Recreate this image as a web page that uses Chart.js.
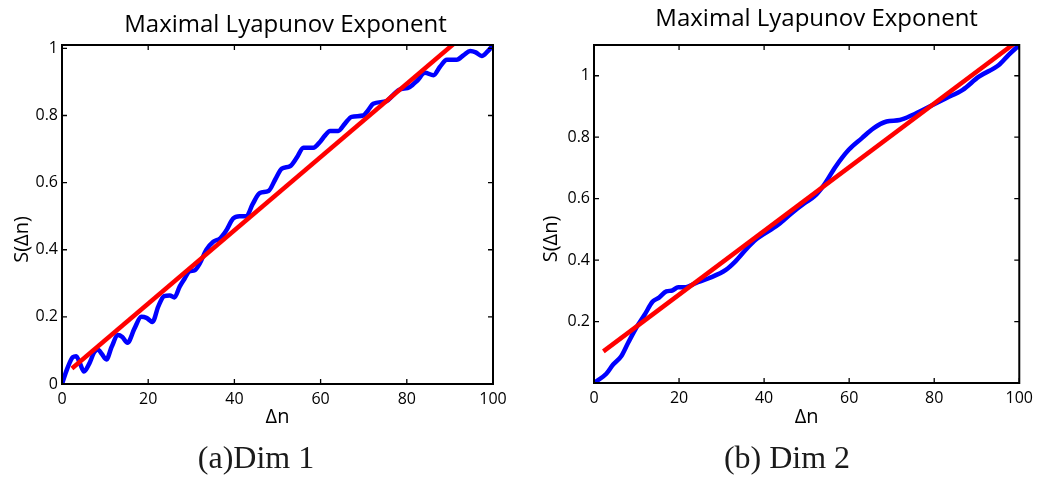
<!DOCTYPE html>
<html>
<head>
<meta charset="utf-8">
<script src="https://cdn.jsdelivr.net/npm/chart.js@4"></script>
<style>
  html, body { margin: 0; padding: 0; background: #fff; }
  #page { position: relative; width: 1039px; height: 479px; overflow: hidden; }
  .panel { position: absolute; top: 0; height: 440px; }
  #panelA { left: 0; width: 520px; }
  #panelB { left: 520px; width: 519px; }
  .caption {
    position: absolute; top: 439px; line-height: 36px;
    font-family: "Liberation Serif", "DejaVu Serif", serif; font-size: 32px;
    color: #1a1a1a; white-space: nowrap; transform: translateX(-50%);
  }
</style>
</head>
<body>
<div id="page">
  <div class="panel" id="panelA"><canvas id="chartA"></canvas></div>
  <div class="panel" id="panelB"><canvas id="chartB"></canvas></div>
  <div class="caption" style="left:256px">(a)Dim 1</div>
  <div class="caption" style="left:787px">(b) Dim 2</div>
</div>
<script>
const chartTitle = 'Maximal Lyapunov Exponent';
const xLabel = 'Δn';
const yLabel = 'S(Δn)';
const xTicks = [0, 20, 40, 60, 80, 100];

// Dim 1
const dim1Ticks = [0, 0.2, 0.4, 0.6, 0.8, 1];
const dim1N = [0, 1.2, 2.5, 3.3, 4.2, 5.1, 6.3, 7.5, 8.3, 9.2, 10.3, 11.5, 13, 14, 15.2, 16.8, 18.4, 19.6, 21,
  22.3, 23.7, 25, 26.1, 27.3, 28.5, 29.5, 30.8, 32, 33.5, 35.1, 36.7, 38, 39.7, 41.2, 42.8, 44.2, 45.9, 47.9,
  49.5, 51, 52.9, 54.5, 56, 58.3, 59.9, 61, 62.2, 64.1, 65.6, 67.2, 69.9, 71, 72.2, 75.3, 76.6, 78, 80.7,
  82.5, 84.2, 86.2, 87.7, 89.3, 91.6, 93.2, 94.7, 96, 97.4, 98.7, 100];
const dim1S = [0, 0.045, 0.08, 0.083, 0.06, 0.037, 0.06, 0.095, 0.103, 0.09, 0.073, 0.11, 0.146, 0.14, 0.123,
  0.165, 0.2, 0.197, 0.185, 0.23, 0.262, 0.264, 0.258, 0.29, 0.315, 0.335, 0.339, 0.36, 0.4, 0.424, 0.434,
  0.455, 0.493, 0.5, 0.5, 0.535, 0.569, 0.575, 0.61, 0.642, 0.649, 0.675, 0.704, 0.704, 0.722, 0.74, 0.754,
  0.754, 0.775, 0.796, 0.8, 0.815, 0.835, 0.843, 0.858, 0.875, 0.885, 0.905, 0.927, 0.92, 0.945, 0.966,
  0.966, 0.98, 0.992, 0.988, 0.977, 0.99, 1.009];
const dim1FitN = [2.3, 100];
const dim1FitS = [0.046, 1.113];

// Dim 2
const dim2Ticks = [0.2, 0.4, 0.6, 0.8, 1];
const dim2N = [0, 2.9, 4.5, 6.4, 8, 9.9, 11.9, 13.8, 15.3, 17, 18.4, 19.8, 21.6, 23.9, 27, 31, 33.2, 35.9, 38,
  43.3, 46.4, 49.5, 51.8, 54.1, 56.8, 59.9, 63, 65.7, 68.8, 71.9, 75, 78.1, 82.8, 86.7, 90.5, 95.2, 97.5, 100];
const dim2S = [0, 0.03, 0.06, 0.087, 0.13, 0.179, 0.222, 0.265, 0.278, 0.298, 0.301, 0.312, 0.312, 0.325,
  0.341, 0.368, 0.395, 0.437, 0.466, 0.515, 0.552, 0.585, 0.607, 0.645, 0.704, 0.759, 0.797, 0.829, 0.851,
  0.856, 0.873, 0.894, 0.927, 0.954, 0.997, 1.035, 1.068, 1.1];
const dim2FitN = [2.2, 100];
const dim2FitS = [0.103, 1.117];

const sans = '"Open Sans", "Noto Sans", sans-serif';

function pts(xs, ys) {
  return xs.map((x, i) => ({ x, y: ys[i] }));
}

// box round the axes, inward tick marks, title and y label
const frame = {
  id: 'frame',
  afterDraw(chart, args, opts) {
    const { ctx, chartArea: a, scales: { x, y } } = chart;
    ctx.save();
    ctx.strokeStyle = '#000';
    ctx.lineWidth = 2;
    ctx.strokeRect(a.left, a.top, a.right - a.left, a.bottom - a.top);
    ctx.lineWidth = 1.3;
    ctx.beginPath();
    x.ticks.forEach(t => {
      const px = x.getPixelForValue(t.value);
      ctx.moveTo(px, a.bottom); ctx.lineTo(px, a.bottom - 5);
      ctx.moveTo(px, a.top); ctx.lineTo(px, a.top + 5);
    });
    y.ticks.forEach(t => {
      const py = y.getPixelForValue(t.value);
      ctx.moveTo(a.left, py); ctx.lineTo(a.left + 5, py);
      ctx.moveTo(a.right, py); ctx.lineTo(a.right - 5, py);
    });
    ctx.stroke();

    ctx.fillStyle = '#000';
    ctx.font = '24px ' + sans;
    ctx.textAlign = 'center';
    ctx.textBaseline = 'alphabetic';
    ctx.fillText(chartTitle, (a.left + a.right) / 2 + opts.titleDx, opts.titleBase);

    ctx.translate(opts.yTitleX, (a.top + a.bottom) / 2 + 25);
    ctx.rotate(-Math.PI / 2);
    ctx.textBaseline = 'middle';
    ctx.font = '20px ' + sans;
    ctx.fillText(yLabel, 0, 0);
    ctx.restore();
  }
};

function makePanel(id, cfg) {
  return new Chart(document.getElementById(id), {
    type: 'line',
    data: {
      datasets: [
        {
          data: pts(cfg.n, cfg.s),
          borderColor: '#0000ff',
          borderWidth: 4.5,
          pointRadius: 0,
          cubicInterpolationMode: 'monotone',
          fill: false,
          order: 1,
        },
        {
          data: pts(cfg.fitN, cfg.fitS),
          borderColor: '#ff0000',
          borderWidth: 4.5,
          pointRadius: 0,
          tension: 0,
          fill: false,
          order: 0,
        },
      ]
    },
    options: {
      responsive: true,
      maintainAspectRatio: false,
      animation: false,
      layout: { padding: { top: 45, right: cfg.padRight, left: 0, bottom: 0 } },
      plugins: {
        legend: { display: false },
        title: { display: false },
        tooltip: { enabled: false },
        frame: { titleDx: cfg.titleDx, titleBase: cfg.titleBase, yTitleX: cfg.yTitleX },
      },
      scales: {
        x: {
          type: 'linear',
          min: 0,
          max: 100,
          grid: { display: false, drawTicks: false },
          border: { display: false },
          afterBuildTicks: s => { s.ticks = xTicks.map(v => ({ value: v })); },
          afterFit: s => { s.height = cfg.xHeight; },
          ticks: { padding: 6, color: '#000', font: { family: sans, size: 16 }, maxRotation: 0, autoSkip: false },
          title: { display: true, text: xLabel, color: '#000', font: { family: sans, size: 20 }, padding: { top: 0, bottom: 11 } },
        },
        y: {
          type: 'linear',
          min: 0,
          max: cfg.yMax,
          grid: { display: false, drawTicks: false },
          border: { display: false },
          afterBuildTicks: s => { s.ticks = cfg.yTicks.map(v => ({ value: v })); },
          afterFit: s => { s.width = cfg.yWidth; },
          ticks: { padding: 4, color: '#000', font: { family: sans, size: 16 }, callback: v => String(v) },
        },
      },
    },
    plugins: [frame],
  });
}

makePanel('chartA', {
  n: dim1N, s: dim1S, fitN: dim1FitN, fitS: dim1FitS,
  yTicks: dim1Ticks, yMax: 1.01,
  yWidth: 62, padRight: 27, xHeight: 56,
  titleDx: 8, titleBase: 32, yTitleX: 22,
});

makePanel('chartB', {
  n: dim2N, s: dim2S, fitN: dim2FitN, fitS: dim2FitS,
  yTicks: dim2Ticks, yMax: 1.1,
  yWidth: 74, padRight: 15, xHeight: 57,
  titleDx: 10, titleBase: 26, yTitleX: 31,
});
</script>
</body>
</html>
